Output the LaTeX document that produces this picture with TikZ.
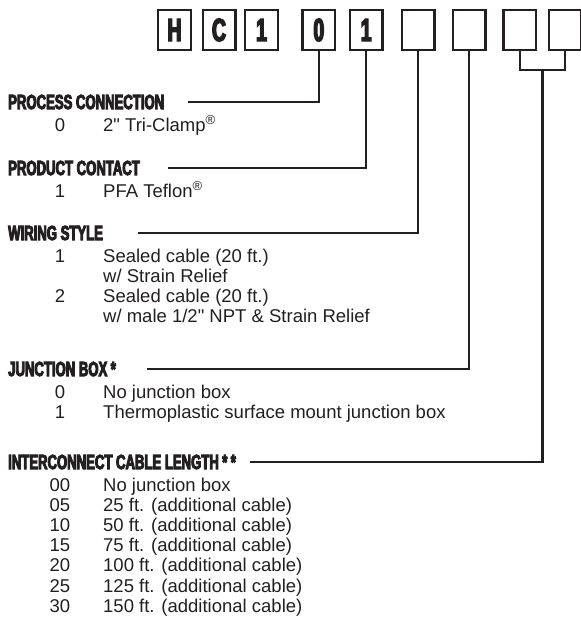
\documentclass[tikz,border=0pt]{standalone}
\usepackage{fontspec}
\setmainfont{Liberation Sans}[Ligatures=TeXOff]
\newfontfamily\headfont{Liberation Sans}[FakeStretch=0.64,FakeBold=4.5]
\newfontfamily\codefont{Liberation Sans}[FakeStretch=0.60,FakeBold=4.5]
\definecolor{ink}{HTML}{231F20}
\begin{document}
\begin{tikzpicture}[x=1pt,y=-1pt,
  codebox/.style={draw=ink, line width=2.4pt, minimum width=32.6pt, minimum height=39.6pt, inner sep=0pt, text=ink, font=\codefont\bfseries\fontsize{32}{32}\selectfont},
  head/.style={anchor=west, inner sep=0pt, text=ink, font=\headfont\bfseries\fontsize{20.5}{20.5}\selectfont},
  num/.style={anchor=base, inner sep=0pt, text=ink, font=\fontsize{18.5}{20}\selectfont},
  txt/.style={anchor=base west, inner sep=0pt, text=ink, font=\fontsize{18.5}{20}\selectfont},
  conn/.style={line width=2.4pt, draw=ink}
]
\useasboundingbox (0,0) rectangle (581,627);
% code boxes
\node[codebox] (bH) at (174.5,30) {H};
\node[codebox] (bC) at (219,30) {C};
\node[codebox] (b1) at (261.5,30) {1};
\node[codebox] (b0) at (318.8,30) {0};
\node[codebox] (b2) at (366.2,30) {1};
\node[codebox] (e1) at (418,30) {};
\node[codebox] (e2) at (469.2,30) {};
\node[codebox] (e3) at (519.7,30) {};
\node[codebox] (e4) at (565.2,30) {};

% headings
\node[head] (h1) at (8,102) {PROCESS CONNECTION};
\node[head] (h2) at (8,168) {PRODUCT CONTACT};
\node[head] (h3) at (8,233) {WIRING STYLE};
\node[head] (h4) at (8,369) {JUNCTION BOX\,*};
\node[head] (h5) at (8,462) {INTERCONNECT CABLE LENGTH\,*\,*};

% connector ends
\coordinate (c1) at (188,102);
\coordinate (c2) at (168,168);
\coordinate (c3) at (138,233);
\coordinate (c4) at (147,369);
\coordinate (c5) at (250,462);
\coordinate (bk) at (542.45,70);

\draw[conn] (b0.south) |- (c1);
\draw[conn] (b2.south) |- (c2);
\draw[conn] (e1.south) |- (c3);
\draw[conn] (e2.south) |- (c4);
\draw[conn] (e3.south) |- (bk) -| (e4.south);
\draw[conn] (bk) |- (c5);

% process connection
\node[num] (n11) at (60,131.1) {0};
\node[txt] (t11) at (103,131.1) {2" Tri-Clamp\textsuperscript{®}};
% product contact
\node[num] (n21) at (60,197.1) {1};
\node[txt] (t21) at (103,197.1) {PFA Teflon\textsuperscript{®}};
% wiring style
\node[num] (n31) at (60,262.1) {1};
\node[txt] (t31) at (103,262.1) {Sealed cable (20 ft.)};
\node[txt] (t32) at (103,282.3) {w/ Strain Relief};
\node[num] (n33) at (60,302.5) {2};
\node[txt] (t33) at (103,302.5) {Sealed cable (20 ft.)};
\node[txt] (t34) at (103,322.7) {w/ male 1/2" NPT \& Strain Relief};
% junction box
\node[num] (n41) at (60,398.1) {0};
\node[txt] (t41) at (103,398.1) {No junction box};
\node[num] (n42) at (60,418.3) {1};
\node[txt] (t42) at (103,418.3) {Thermoplastic surface mount junction box};
% interconnect cable length
\node[num] (n51) at (60,491.1) {00};
\node[txt] (t51) at (103,491.1) {No junction box};
\node[num] (n52) at (60,511.3) {05};
\node[txt] (t52) at (103,511.3) {25 ft. (additional cable)};
\node[num] (n53) at (60,531.5) {10};
\node[txt] (t53) at (103,531.5) {50 ft. (additional cable)};
\node[num] (n54) at (60,551.7) {15};
\node[txt] (t54) at (103,551.7) {75 ft. (additional cable)};
\node[num] (n55) at (60,571.9) {20};
\node[txt] (t55) at (103,571.9) {100 ft. (additional cable)};
\node[num] (n56) at (60,592.1) {25};
\node[txt] (t56) at (103,592.1) {125 ft. (additional cable)};
\node[num] (n57) at (60,612.3) {30};
\node[txt] (t57) at (103,612.3) {150 ft. (additional cable)};
\end{tikzpicture}
\end{document}
